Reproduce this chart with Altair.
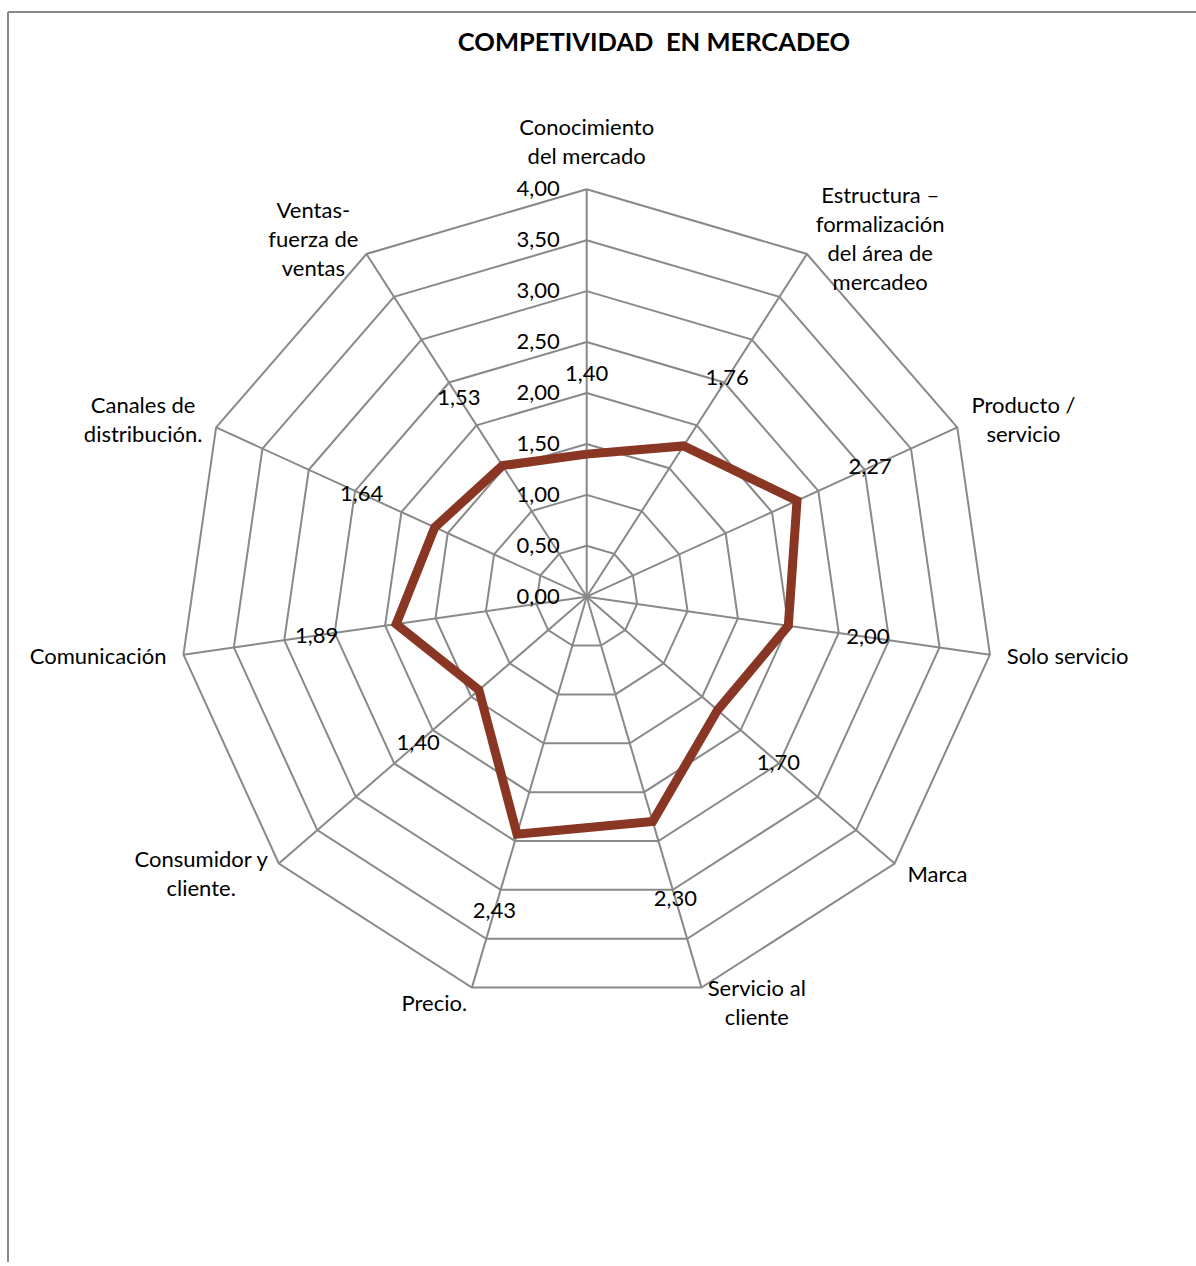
import math
import altair as alt
import pandas as pd

# ---------------- data ----------------
categories = [
    "Conocimiento\ndel mercado",
    "Estructura –\nformalización\ndel área de\nmercadeo",
    "Producto /\nservicio",
    "Solo servicio",
    "Marca",
    "Servicio al\ncliente",
    "Precio.",
    "Consumidor y\ncliente.",
    "Comunicación",
    "Canales de\ndistribución.",
    "Ventas-\nfuerza de\nventas",
]
values = [1.40, 1.76, 2.27, 2.00, 1.70, 2.30, 2.43, 1.40, 1.89, 1.64, 1.53]
value_labels = ["1,40", "1,76", "2,27", "2,00", "1,70", "2,30", "2,43", "1,40", "1,89", "1,64", "1,53"]
tick_values = [0.0, 0.5, 1.0, 1.5, 2.0, 2.5, 3.0, 3.5, 4.0]
tick_labels = ["0,00", "0,50", "1,00", "1,50", "2,00", "2,50", "3,00", "3,50", "4,00"]
title_text = "COMPETIVIDAD\u00a0 EN MERCADEO"

# ---------------- layout / style ----------------
FONT = "Lato"
FS = 22
LH = 29
PAD_L, PAD_T = 8, 12
W, H = 1188, 1250
PX = 101.85            # pixels per value unit
CX, CY = 578.7, 584.7  # centre of the radar inside the plot area
RMAX = 4.0
GRID = "#898989"
LINE = "#893624"

n = len(categories)
ang = [2 * math.pi * k / n for k in range(n)]

xs = alt.Scale(domain=[-CX / PX, (W - CX) / PX], nice=False, zero=False)
ys = alt.Scale(domain=[-(H - CY) / PX, CY / PX], nice=False, zero=False)

# rough text width estimate (em units) for centring multi-line labels
_narrow = set("iljtf.,:;!| ")
_mid = set("rs-/z")
def text_width(s):
    w = 0.0
    for ch in s:
        if ch in "ií" or ch in "l.":
            w += 0.24
        elif ch == " ":
            w += 0.25
        elif ch in "tf":
            w += 0.32
        elif ch in "r-":
            w += 0.35
        elif ch in "s/z":
            w += 0.42
        elif ch in "m":
            w += 0.83
        elif ch in "–":
            w += 0.5
        elif ch.isupper():
            w += 0.62
        else:
            w += 0.53
    return w * FS

# grid rings
ring_rows = []
for lv in tick_values[1:]:
    for k in range(n + 1):
        a = ang[k % n]
        ring_rows.append({"lv": lv, "o": k, "x": lv * math.sin(a), "y": lv * math.cos(a)})
rings = alt.Chart(pd.DataFrame(ring_rows)).mark_line(color=GRID, strokeWidth=2).encode(
    x=alt.X("x:Q", scale=xs, axis=None),
    y=alt.Y("y:Q", scale=ys, axis=None),
    detail="lv:N",
    order="o:Q",
)

# spokes
spoke_df = pd.DataFrame({
    "x": [0.0] * n, "y": [0.0] * n,
    "x2": [RMAX * math.sin(a) for a in ang],
    "y2": [RMAX * math.cos(a) for a in ang],
})
spokes = alt.Chart(spoke_df).mark_rule(color=GRID, strokeWidth=2).encode(
    x=alt.X("x:Q", scale=xs, axis=None), y=alt.Y("y:Q", scale=ys, axis=None),
    x2="x2:Q", y2="y2:Q",
)

# data polygon
poly_rows = []
for k in range(n + 1):
    a = ang[k % n]
    v = values[k % n]
    poly_rows.append({"o": k, "x": v * math.sin(a), "y": v * math.cos(a)})
poly = alt.Chart(pd.DataFrame(poly_rows)).mark_line(color=LINE, strokeWidth=9).encode(
    x=alt.X("x:Q", scale=xs, axis=None), y=alt.Y("y:Q", scale=ys, axis=None), order="o:Q",
)

# value labels (placed radially outside the points)
LOFF = 0.79
vl_df = pd.DataFrame({
    "x": [(v + LOFF) * math.sin(a) for v, a in zip(values, ang)],
    "y": [(v + LOFF) * math.cos(a) for v, a in zip(values, ang)],
    "t": value_labels,
})
vlabels = alt.Chart(vl_df).mark_text(font=FONT, fontSize=FS, color="black", baseline="middle").encode(
    x=alt.X("x:Q", scale=xs, axis=None), y=alt.Y("y:Q", scale=ys, axis=None), text="t:N",
)

# radial axis tick labels
tk_df = pd.DataFrame({"x": [-27 / PX] * len(tick_values), "y": tick_values, "t": tick_labels})
ticks = alt.Chart(tk_df).mark_text(font=FONT, fontSize=FS, color="black", align="right", baseline="middle").encode(
    x=alt.X("x:Q", scale=xs, axis=None), y=alt.Y("y:Q", scale=ys, axis=None), text="t:N",
)

# category labels (first line sits at the anchor, so shift multi-line blocks up)
rows = []
for cat, a in zip(categories, ang):
    s, c = math.sin(a), math.cos(a)
    ex, ey = RMAX * s, RMAX * c
    lines = cat.split("\n")
    nl = len(lines)
    up = (nl - 1) * LH / 2
    if abs(s) < 0.05:
        rows.append({"x": ex, "y": ey + (18 + LH * nl / 2 + up) / PX, "t": cat, "al": "center"})
    else:
        sign = 1 if s > 0 else -1
        if nl > 1:
            half = max(text_width(l) for l in lines) / 2
            rows.append({"x": ex + (17 * s + sign * half) / PX, "y": ey + (17 * c + up) / PX,
                         "t": cat, "al": "center"})
        else:
            rows.append({"x": ex + 17 * s / PX, "y": ey + 17 * c / PX,
                         "t": cat, "al": "left" if s > 0 else "right"})
lab_df = pd.DataFrame(rows)
cat_layers = []
for al in ["left", "right", "center"]:
    sub = lab_df[lab_df["al"] == al]
    if len(sub):
        cat_layers.append(
            alt.Chart(sub).mark_text(font=FONT, fontSize=FS, color="black", align=al,
                                     baseline="middle", lineBreak="\n", lineHeight=LH).encode(
                x=alt.X("x:Q", scale=xs, axis=None), y=alt.Y("y:Q", scale=ys, axis=None), text="t:N")
        )

# frame (left and top edges of the chart area)
one = pd.DataFrame({"a": [0]})
frame_l = alt.Chart(one).mark_rule(color="#888888", strokeWidth=2).encode(
    x=alt.value(0), y=alt.value(0), y2=alt.value(H + 20))
frame_t = alt.Chart(one).mark_rule(color="#888888", strokeWidth=2).encode(
    x=alt.value(0), x2=alt.value(W + 20), y=alt.value(0))

chart = alt.layer(
    frame_l, frame_t, rings, spokes, poly, ticks, vlabels, *cat_layers
).properties(
    width=W, height=H,
    autosize="none",
    padding={"left": PAD_L, "top": PAD_T, "right": 0, "bottom": 0},
    title=alt.TitleParams(title_text, font=FONT, fontSize=25.5, fontWeight="bold",
                          color="black", anchor="middle", dx=52, offset=-45),
).configure_view(stroke=None)

chart.save("out.html", embed_options={"renderer": "svg", "actions": False})
